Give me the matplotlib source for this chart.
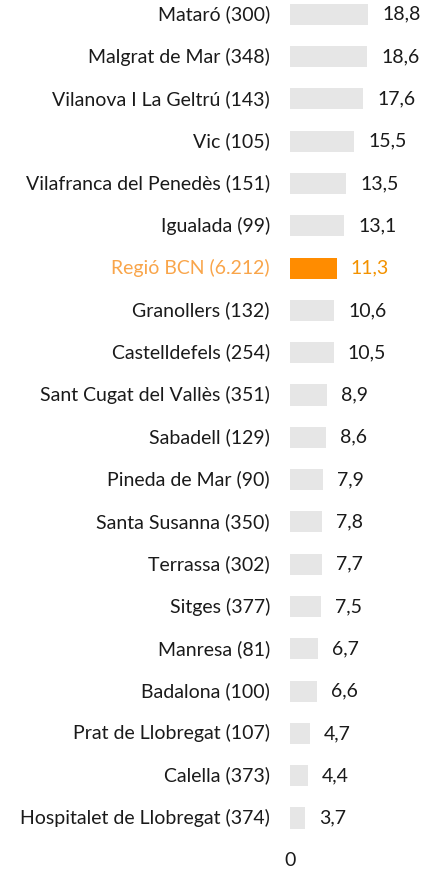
import matplotlib.pyplot as plt
import numpy as np

plt.rcParams['font.family'] = ['Lato', 'DejaVu Sans']

labels = ['Mataró (300)', 'Malgrat de Mar (348)', 'Vilanova I La Geltrú (143)', 'Vic (105)',
          'Vilafranca del Penedès (151)', 'Igualada (99)', 'Regió BCN (6.212)', 'Granollers (132)',
          'Castelldefels (254)', 'Sant Cugat del Vallès (351)', 'Sabadell (129)', 'Pineda de Mar (90)',
          'Santa Susanna (350)', 'Terrassa (302)', 'Sitges (377)', 'Manresa (81)', 'Badalona (100)',
          'Prat de Llobregat (107)', 'Calella (373)', 'Hospitalet de Llobregat (374)']
values = [18.8, 18.6, 17.6, 15.5, 13.5, 13.1, 11.3, 10.6, 10.5, 8.9,
          8.6, 7.9, 7.8, 7.7, 7.5, 6.7, 6.6, 4.7, 4.4, 3.7]
highlight = 'Regió BCN (6.212)'

W, H = 431, 869
fig = plt.figure(figsize=(W / 100, H / 100), dpi=100)

# row spacing ~42.3 px, last row centred 51 px above the bottom edge
step = 42.3
bottom_px = 20
ax = fig.add_axes([290 / W, bottom_px / H, (W - 290) / W, (H - bottom_px) / H])
ax.set_xlim(0, (W - 290) / 4.15)
y0 = -(51 - bottom_px) / step
ax.set_ylim(y0, y0 + (H - bottom_px) / step)

n = len(labels)
ypos = np.arange(n)[::-1]
colors = ['#FF8C00' if l == highlight else '#E6E6E6' for l in labels]
ax.barh(ypos, values, height=0.5, color=colors)

fs = 14
for y, v, l in zip(ypos, values, labels):
    hl = l == highlight
    ax.text(v + 14 / 4.15, y, f'{v:.1f}'.replace('.', ','), va='center', ha='left',
            fontsize=fs, color='#F39200' if hl else '#1a1a1a')
    ax.text(-20 / 4.15, y, l, va='center', ha='right', fontsize=fs,
            color='#F9A54A' if hl else '#1a1a1a', clip_on=False)

ax.set_yticks([])
ax.set_xticks([0])
ax.set_xticklabels(['0'], fontsize=fs, color='#1a1a1a')
ax.tick_params(axis='x', length=0, pad=2)
for s in ax.spines.values():
    s.set_visible(False)

fig.savefig('out.png', dpi=100)
